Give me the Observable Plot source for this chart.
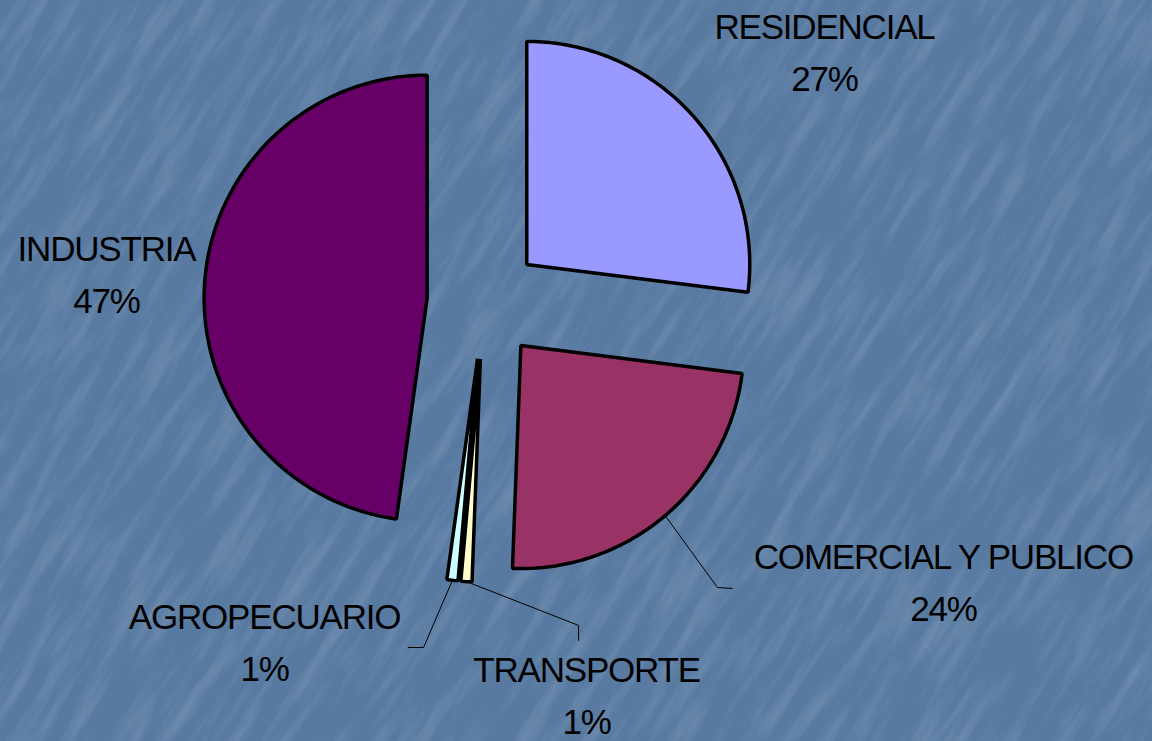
<!DOCTYPE html>
<html><head><meta charset="utf-8">
<script src="https://cdn.jsdelivr.net/npm/d3@7"></script>
<script src="https://cdn.jsdelivr.net/npm/@observablehq/plot@0.6"></script>
<style>
html,body{margin:0;padding:0;background:#587aa1;overflow:hidden}
#wrap{position:relative;width:1152px;height:741px}
#bg{position:absolute;left:0;top:0}
#chart{position:absolute;left:0;top:0;width:1152px;height:741px}
</style></head><body>
<div id="wrap">
<svg id="bg" width="1152" height="741">
  <defs>
    <filter id="streaks" x="0" y="0" width="100%" height="100%">
      <feTurbulence type="fractalNoise" baseFrequency="0.01 0.07" numOctaves="4" seed="11"/>
      <feColorMatrix type="matrix" values="0 0 0 0 1  0 0 0 0 1  0 0 0 0 1  1.4 0 0 0 -0.6"/>
    </filter>
  </defs>
  <rect width="1152" height="741" fill="#587aa1"/>
  <g transform="rotate(-58 576 370)" opacity="0.2">
    <rect x="-600" y="-600" width="2400" height="2000" filter="url(#streaks)"/>
  </g>
</svg>
<div id="chart"></div>
</div>
<script>
// ---- data ----
const categories = ["RESIDENCIAL", "COMERCIAL Y PUBLICO", "TRANSPORTE", "AGROPECUARIO", "INDUSTRIA"];
const shares = [27.0, 23.6, 0.8, 0.8, 47.8];
const percentLabels = ["27%", "24%", "1%", "1%", "47%"];
const sliceColors = ["#9999ff", "#993366", "#ffffcc", "#ccffff", "#660066"];

// ---- layout (pie radius = 1) ----
const R = 1, EXPLODE = 0.2556;
const labelAnchors = [[1.527, 1.348], [2.060, -1.028], [0.460, -1.536], [-0.984, -1.298], [-1.693, 0.353]];
const leaderBends = [null, [[1.047, -1.280], [1.114, -1.284]], [[0.424, -1.450], [0.424, -1.517]], [[-0.271, -1.549], [-0.339, -1.549]], null];

const arcs = d3.pie().sort(null).value(d => d)(shares);

const sliceRows = [];
const leaderRows = [];
const labelRows = [];
arcs.forEach((a, i) => {
  const name = categories[i];
  const b = (a.startAngle + a.endAngle) / 2;
  const ox = EXPLODE * Math.sin(b), oy = EXPLODE * Math.cos(b);
  sliceRows.push({name, x: ox, y: oy});
  const n = Math.max(2, Math.ceil((a.endAngle - a.startAngle) / (Math.PI / 180)));
  for (let k = 0; k <= n; ++k) {
    const t = a.startAngle + (a.endAngle - a.startAngle) * k / n;
    sliceRows.push({name, x: ox + R * Math.sin(t), y: oy + R * Math.cos(t)});
  }
  if (leaderBends[i]) {
    leaderRows.push({name, x: ox + R * Math.sin(b), y: oy + R * Math.cos(b)});
    for (const [x, y] of leaderBends[i]) leaderRows.push({name, x, y});
  }
  labelRows.push({name, x: labelAnchors[i][0], y: labelAnchors[i][1], text: name + "\n" + percentLabels[i]});
});

const chart = Plot.plot({
  width: 1152,
  height: 741,
  margin: 0,
  x: {domain: [-2.1682, 2.9978], axis: null},
  y: {domain: [-1.9704, 1.3525], axis: null},
  color: {domain: categories, range: sliceColors},
  style: {background: "none", overflow: "visible"},
  marks: [
    Plot.line(leaderRows, {x: "x", y: "y", z: "name", stroke: "black", strokeWidth: 1}),
    Plot.line(sliceRows, {x: "x", y: "y", z: "name", fill: "name", stroke: "black", strokeWidth: 3.5, curve: "linear-closed", strokeLinejoin: "miter"}),
    Plot.text(labelRows, {x: "x", y: "y", text: "text", lineAnchor: "top", lineHeight: 1.5, fontSize: 35, fill: "black", textAnchor: "middle", fontFamily: "'Liberation Sans', Arial, sans-serif"})
  ]
});
d3.select(chart).selectAll("text").style("letter-spacing", "-1.2px");
document.getElementById("chart").append(chart);
</script></body></html>
